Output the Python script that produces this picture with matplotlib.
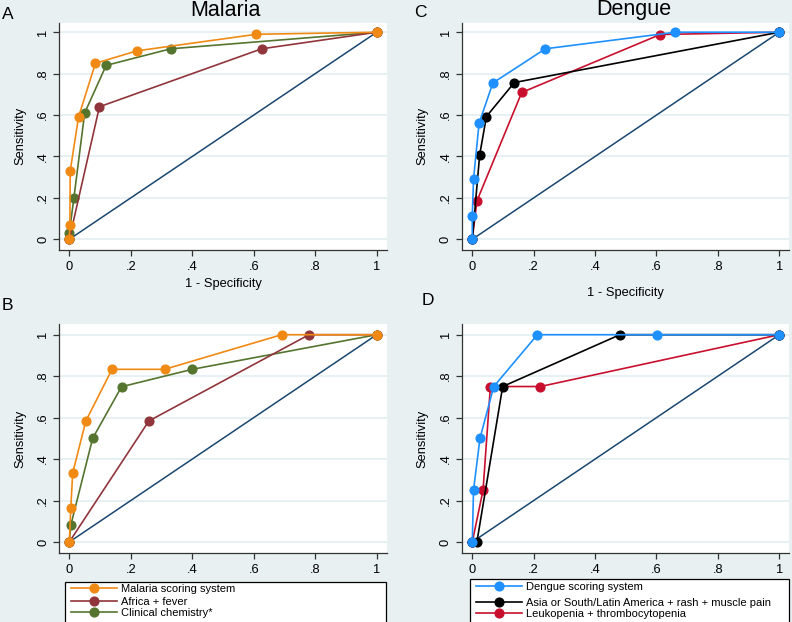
import matplotlib
matplotlib.use("Agg")
import matplotlib.pyplot as plt
from matplotlib.patches import Rectangle

plt.rcParams['font.family'] = ['Liberation Sans', 'DejaVu Sans']

# ===============================
# data
# ===============================

# A: malaria, derivation
mal_score_x_a = [0, 0.002, 0.003, 0.03, 0.085, 0.22, 0.608, 1]
mal_score_y_a = [0, 0.069, 0.33, 0.59, 0.85, 0.91, 0.99, 1]
africa_x_a = [0, 0.098, 0.626, 1]
africa_y_a = [0, 0.64, 0.92, 1]
chem_x_a = [0, 0, 0.015, 0.05, 0.12, 0.33, 1]
chem_y_a = [0, 0.03, 0.20, 0.61, 0.84, 0.92, 1]

# B: malaria, validation
mal_score_x_b = [0, 0.005, 0.011, 0.054, 0.139, 0.31, 0.691, 1]
mal_score_y_b = [0, 0.166, 0.333, 0.584, 0.833, 0.833, 1, 1]
africa_x_b = [0, 0.259, 0.78, 1]
africa_y_b = [0, 0.584, 1, 1]
chem_x_b = [0, 0.005, 0.076, 0.17, 0.40, 1]
chem_y_b = [0, 0.082, 0.5, 0.749, 0.833, 1]

# C: dengue, derivation
den_score_x_c = [0, 0, 0.004, 0.022, 0.067, 0.238, 0.661, 1]
den_score_y_c = [0, 0.114, 0.29, 0.56, 0.755, 0.92, 1, 1]
asia_x_c = [0, 0.024, 0.046, 0.137, 1]
asia_y_c = [0, 0.407, 0.593, 0.757, 1]
leuko_x_c = [0, 0.015, 0.161, 0.612, 1]
leuko_y_c = [0, 0.185, 0.709, 0.989, 1]

# D: dengue, validation
den_score_x_d = [0, 0.004, 0.025, 0.07, 0.212, 0.602, 1]
den_score_y_d = [0, 0.25, 0.5, 0.75, 1, 1, 1]
asia_x_d = [0, 0.015, 0.099, 0.481, 1]
asia_y_d = [0, 0, 0.75, 1, 1]
leuko_x_d = [0, 0.035, 0.059, 0.222, 1]
leuko_y_d = [0, 0.25, 0.75, 0.75, 1]

ref_line = [0, 1]

malaria_labels = ["Malaria scoring system", "Africa + fever", "Clinical chemistry*"]
dengue_labels = ["Dengue scoring system",
                 "Asia or South/Latin America + rash + muscle pain",
                 "Leukopenia + thrombocytopenia"]
ticks = [0, 0.2, 0.4, 0.6, 0.8, 1]
tick_labels = ["0", ".2", ".4", ".6", ".8", "1"]

# colours (Stata s2color-ish)
BG = "#E8F0F2"
GRID = "#E3EDF0"
NAVY = "#1A476F"
ORANGE = "#F08A14"
MAROON = "#90353B"
GREEN = "#55752F"
BLUE = "#1E90FF"
BLACK = "#000000"
CRIMSON = "#C8102E"

W, H = 792, 622
fig = plt.figure(figsize=(W / 100, H / 100), dpi=100, facecolor=BG)


def px_axes(left, top, right, bottom):
    return fig.add_axes([left / W, 1 - bottom / H, (right - left) / W, (bottom - top) / H])


def style(ax, xlim, ylim, xlabel):
    ax.set_facecolor("white")
    ax.set_xlim(*xlim)
    ax.set_ylim(*ylim)
    for s in ["top", "right"]:
        ax.spines[s].set_visible(False)
    for s in ["left", "bottom"]:
        ax.spines[s].set_color("#333333")
        ax.spines[s].set_linewidth(0.9)
    ax.set_xticks(ticks)
    ax.set_xticklabels(tick_labels)
    ax.set_yticks(ticks)
    ax.set_yticklabels(tick_labels, rotation=90, va="center")
    ax.tick_params(length=4.3, width=0.9, color="#333333", labelsize=9.3)
    ax.tick_params(axis="x", pad=3.5)
    ax.tick_params(axis="y", pad=3)
    ax.grid(axis="y", color=GRID, lw=1.2)
    ax.set_axisbelow(True)
    ax.set_ylabel("Sensitivity", fontsize=9.3, labelpad=8)
    if xlabel:
        ax.set_xlabel("1 - Specificity", fontsize=9.3, labelpad=4)


def curves(ax, series):
    ax.plot(ref_line, ref_line, color=NAVY, lw=1.1, zorder=2)
    handles = []
    n = len(series)
    for i, (x, y, c, lab) in enumerate(series):
        h, = ax.plot(x, y, color=c, lw=1.2, marker="o", ms=6.3, mec=c,
                     label=lab, zorder=3 + n - i, clip_on=False)
        handles.append(h)
    return handles


def legend_box(handles, left, top, right, rows):
    fig.patches.append(Rectangle((left / W, -0.05), (right - left) / W, 1 - top / H + 0.05,
                                 transform=fig.transFigure, facecolor="white",
                                 edgecolor="black", lw=0.9, zorder=0))
    # one entry per row, Stata spaces them unevenly
    for h, y in zip(handles, rows):
        fig.legend(handles=[h], loc="center left",
                   bbox_to_anchor=((left + 6) / W, 1 - y / H),
                   frameon=False, fontsize=8, handlelength=4.1, handletextpad=0.4,
                   borderpad=0, borderaxespad=0, numpoints=1)


xlim_l = (-0.0325, 1.0335)
xlim_r = (-0.0345, 1.0316)
ylim_top = (-0.0517, 1.046)
ylim_bot = (-0.0545, 1.0516)

# A
axA = px_axes(59.3, 22.7, 387, 250)
style(axA, xlim_l, ylim_top, True)
curves(axA, [(mal_score_x_a, mal_score_y_a, ORANGE, malaria_labels[0]),
             (africa_x_a, africa_y_a, MAROON, malaria_labels[1]),
             (chem_x_a, chem_y_a, GREEN, malaria_labels[2])])

# C
axC = px_axes(461.7, 22.7, 789, 250)
style(axC, xlim_r, ylim_top, True)
axC.xaxis.labelpad = 10
curves(axC, [(den_score_x_c, den_score_y_c, BLUE, dengue_labels[0]),
             (asia_x_c, asia_y_c, BLACK, dengue_labels[1]),
             (leuko_x_c, leuko_y_c, CRIMSON, dengue_labels[2])])

# B
axB = px_axes(59.3, 324, 387, 553.3)
style(axB, xlim_l, ylim_bot, False)
hB = curves(axB, [(mal_score_x_b, mal_score_y_b, ORANGE, malaria_labels[0]),
                  (africa_x_b, africa_y_b, MAROON, malaria_labels[1]),
                  (chem_x_b, chem_y_b, GREEN, malaria_labels[2])])

# D
axD = px_axes(461.7, 324, 789, 553.3)
style(axD, xlim_r, ylim_bot, False)
hD = curves(axD, [(den_score_x_d, den_score_y_d, BLUE, dengue_labels[0]),
                  (asia_x_d, asia_y_d, BLACK, dengue_labels[1]),
                  (leuko_x_d, leuko_y_d, CRIMSON, dengue_labels[2])])

legend_box(hB, 65.3, 581.7, 386, [589, 602.3, 613.3])
legend_box(hD, 470, 579.3, 789, [586.7, 603.3, 614.3])

# titles and panel letters
fig.text(225 / W, 1 - 16 / H, "Malaria", fontsize=15.5, ha="center", va="baseline")
fig.text(634 / W, 1 - 15 / H, "Dengue", fontsize=15.5, ha="center", va="baseline")
fig.text(2 / W, 1 - 19 / H, "A", fontsize=12.5, ha="left", va="baseline")
fig.text(414 / W, 1 - 17 / H, "C", fontsize=12.5, ha="left", va="baseline")
fig.text(2 / W, 1 - 310 / H, "B", fontsize=12.5, ha="left", va="baseline")
fig.text(422 / W, 1 - 305 / H, "D", fontsize=12.5, ha="left", va="baseline")

fig.savefig("out.png", dpi=100, facecolor=BG)
